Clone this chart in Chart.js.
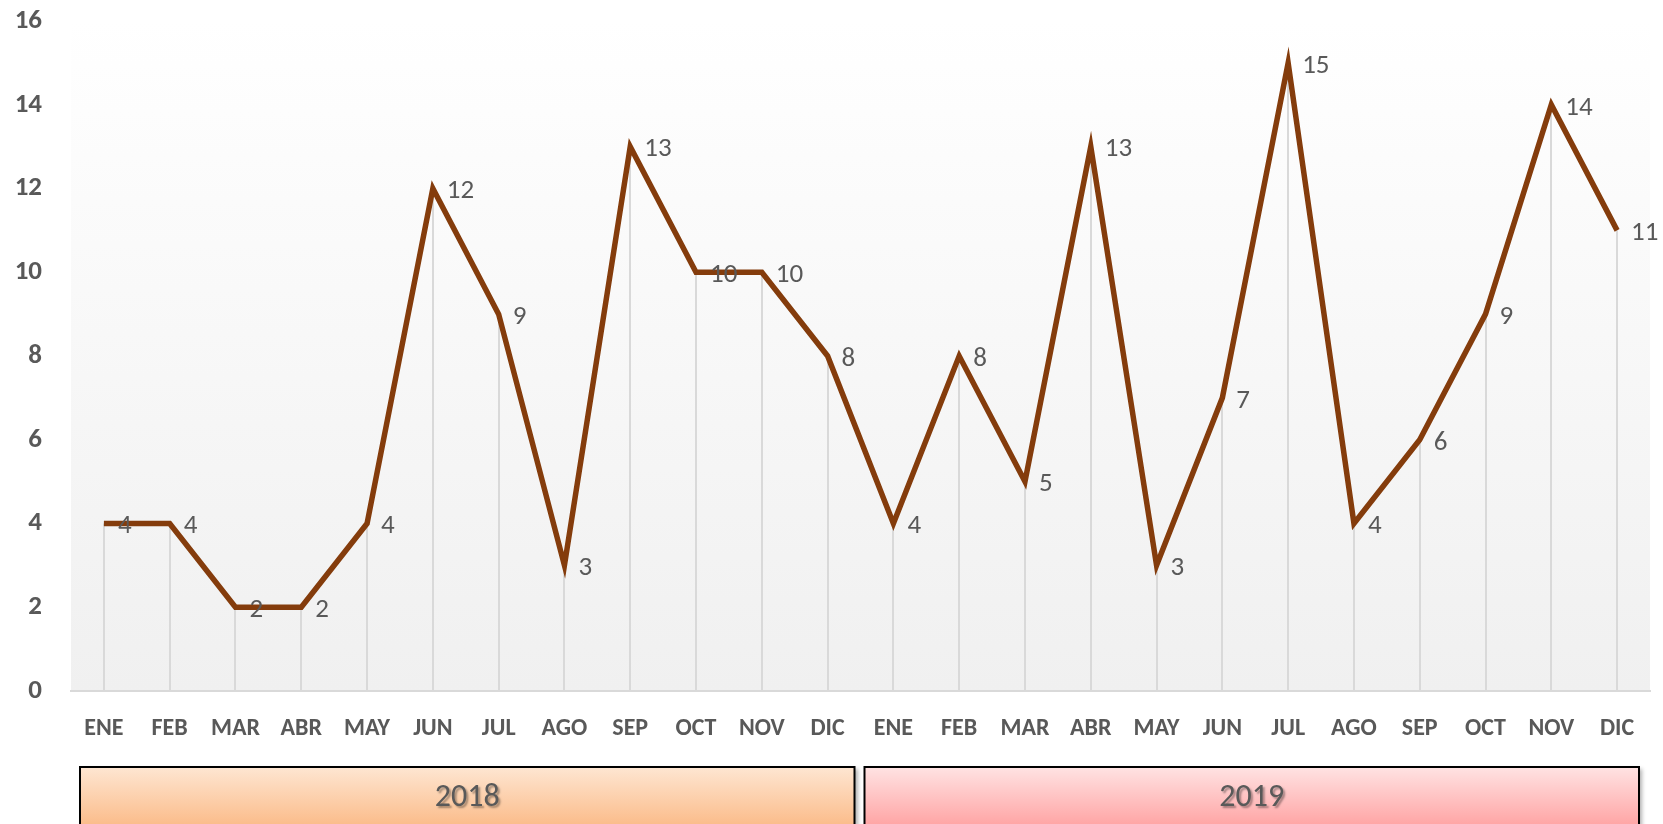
<!DOCTYPE html>
<html>
<head>
<meta charset="utf-8">
<script src="https://cdn.jsdelivr.net/npm/chart.js@4/dist/chart.umd.min.js"></script>
<style>
  html, body { margin: 0; padding: 0; background: #ffffff; }
  #wrap { width: 1663px; height: 824px; position: relative; }
</style>
</head>
<body>
<div id="wrap"><canvas id="c" width="1663" height="824"></canvas></div>
<script>
const months = ["ENE","FEB","MAR","ABR","MAY","JUN","JUL","AGO","SEP","OCT","NOV","DIC"];
const years = ["2018","2019"];
const values2018 = [4,4,2,2,4,12,9,3,13,10,10,8];
const values2019 = [4,8,5,13,3,7,15,4,6,9,14,11];
const yMin = 0, yMax = 16, yStep = 2;

const categories = months.concat(months);
const values = values2018.concat(values2019);
const FONT = "Carlito, Lato, 'Open Sans', sans-serif";

const bgPlugin = {
  id: 'bg',
  beforeDraw(chart) {
    const {ctx, chartArea: a} = chart;
    ctx.save();
    const g = ctx.createLinearGradient(0, a.top, 0, a.bottom);
    g.addColorStop(0, '#ffffff');
    g.addColorStop(1, '#f0f0f0');
    ctx.fillStyle = g;
    ctx.fillRect(a.left, a.top, a.right - a.left, a.bottom - a.top);
    ctx.restore();
  }
};

const dropPlugin = {
  id: 'drops',
  beforeDatasetsDraw(chart) {
    const {ctx, scales: {x, y}} = chart;
    ctx.save();
    ctx.strokeStyle = '#d9d9d9';
    ctx.lineWidth = 2;
    values.forEach((v, i) => {
      const px = Math.round(x.getPixelForValue(i));
      ctx.beginPath();
      ctx.moveTo(px, y.getPixelForValue(v));
      ctx.lineTo(px, y.getPixelForValue(yMin));
      ctx.stroke();
    });
    ctx.restore();
  }
};

const labelPlugin = {
  id: 'dlabels',
  afterDatasetsDraw(chart) {
    const {ctx, scales: {x, y}} = chart;
    ctx.save();
    ctx.font = "27px " + FONT;
    ctx.fillStyle = '#595959';
    ctx.textAlign = 'left';
    ctx.textBaseline = 'middle';
    values.forEach((v, i) => {
      ctx.fillText(String(v), x.getPixelForValue(i) + 14, y.getPixelForValue(v) + 3);
    });
    ctx.restore();
  }
};

const yearPlugin = {
  id: 'years',
  afterDraw(chart) {
    const {ctx, scales: {x}} = chart;
    const step = x.getPixelForValue(1) - x.getPixelForValue(0);
    const top = 767, bottom = 840;
    const fills = [['#fee6d2', '#fbbd8c'], ['#ffe3e3', '#ffa6a6']];
    years.forEach((yr, k) => {
      const first = k * months.length;
      const last = first + months.length - 1;
      const left = x.getPixelForValue(first) - step / 2 + (k === 0 ? 9 : 4);
      const right = x.getPixelForValue(last) + step / 2 - (k === 0 ? 6 : 11);
      ctx.save();
      const g = ctx.createLinearGradient(0, top, 0, 824);
      g.addColorStop(0, fills[k][0]);
      g.addColorStop(1, fills[k][1]);
      ctx.shadowColor = 'rgba(0,0,0,0.3)';
      ctx.shadowBlur = 4;
      ctx.shadowOffsetX = 3;
      ctx.shadowOffsetY = 2;
      ctx.fillStyle = g;
      ctx.fillRect(left, top, right - left, bottom - top);
      ctx.shadowColor = 'transparent';
      ctx.strokeStyle = '#000000';
      ctx.lineWidth = 2;
      ctx.strokeRect(left, top, right - left, bottom - top);
      ctx.font = "32px " + FONT;
      ctx.textAlign = 'center';
      ctx.textBaseline = 'middle';
      ctx.shadowColor = 'rgba(0,0,0,0.35)';
      ctx.shadowBlur = 2;
      ctx.shadowOffsetX = 2;
      ctx.shadowOffsetY = 2;
      ctx.fillStyle = '#595959';
      ctx.fillText(yr, (left + right) / 2, 798);
      ctx.restore();
    });
  }
};

new Chart(document.getElementById('c'), {
  type: 'line',
  data: {
    labels: categories,
    datasets: [{
      data: values,
      borderColor: '#843c0c',
      borderWidth: 5.5,
      pointRadius: 0,
      pointHoverRadius: 0,
      tension: 0,
      fill: false
    }]
  },
  options: {
    responsive: false,
    animation: false,
    events: [],
    layout: { padding: { top: 21, right: 13, left: 0, bottom: 0 } },
    plugins: { legend: { display: false }, tooltip: { enabled: false } },
    scales: {
      x: {
        offset: true,
        grid: { display: false, drawTicks: false },
        border: { display: true, color: '#d9d9d9', width: 2 },
        ticks: {
          color: '#595959',
          font: { family: FONT, size: 24, weight: 'bold' },
          padding: 24,
          maxRotation: 0,
          autoSkip: false
        },
        afterFit(s) { s.height = 133; s.paddingLeft = 0; s.paddingRight = 0; }
      },
      y: {
        min: yMin, max: yMax,
        grid: { display: false, drawTicks: false },
        border: { display: false },
        ticks: {
          stepSize: yStep,
          color: '#595959',
          font: { family: FONT, size: 27, weight: 'bold' },
          padding: 29
        },
        afterFit(s) { s.width = 71; s.paddingTop = 0; s.paddingBottom = 0; }
      }
    }
  },
  plugins: [bgPlugin, dropPlugin, labelPlugin, yearPlugin]
});
</script>
</body>
</html>
